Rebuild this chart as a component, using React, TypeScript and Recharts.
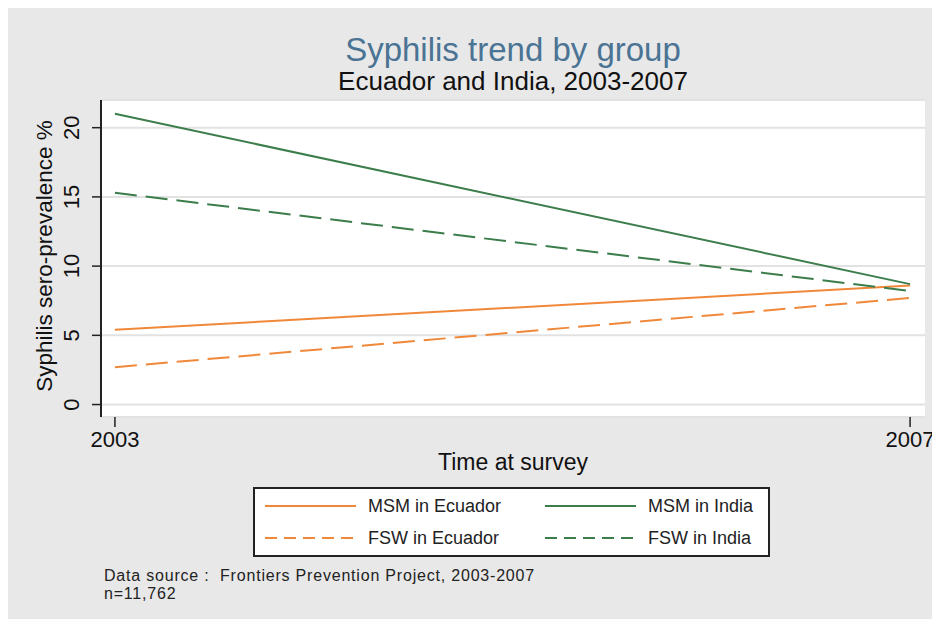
import React from "react";
import { LineChart, Line, XAxis, YAxis, CartesianGrid } from "recharts";

const years = [2003, 2007];
const msmEcuador = [5.4, 8.6];
const fswEcuador = [2.7, 7.7];
const msmIndia = [21.0, 8.7];
const fswIndia = [15.3, 8.2];
const yTicks = [0, 5, 10, 15, 20];
const xTicks = [2003, 2007];

const ORANGE = "#f0883a";
const GREEN = "#3b7d4b";

const seriesDefs = [
  { key: "msmEcuador", name: "MSM in Ecuador", color: ORANGE, dash: undefined as string | undefined, values: msmEcuador },
  { key: "fswEcuador", name: "FSW in Ecuador", color: ORANGE, dash: "22 9", values: fswEcuador },
  { key: "msmIndia", name: "MSM in India", color: GREEN, dash: undefined as string | undefined, values: msmIndia },
  { key: "fswIndia", name: "FSW in India", color: GREEN, dash: "22 9", values: fswIndia },
];

const data = years.map((year, i) => {
  const row: Record<string, number> = { year };
  seriesDefs.forEach((s) => {
    row[s.key] = s.values[i];
  });
  return row;
});

const FONT = "'Liberation Sans', Arial, sans-serif";

function VerticalTick(props: any) {
  const { x, y, payload } = props;
  const px = Number(x) - 19;
  const py = Number(y);
  return (
    <g transform={`translate(${px}, ${py})`}>
      <g transform="rotate(-90)">
        <text
          x={0}
          y={0}
          textAnchor="middle"
          dominantBaseline="central"
          style={{ fontSize: 22, fontFamily: FONT, fill: "#111" }}
        >
          {String(payload.value)}
        </text>
      </g>
    </g>
  );
}

const LegendItem = ({ s }: { s: (typeof seriesDefs)[number] }) => (
  <div style={{ display: "flex", alignItems: "center", height: 32 }}>
    <svg width={91} height={6} style={{ marginRight: 12 }}>
      <line
        x1={0}
        y1={3}
        x2={91}
        y2={3}
        stroke={s.color}
        strokeWidth={2.2}
        strokeDasharray={s.dash ? "12 7" : undefined}
      />
    </svg>
    <span style={{ fontSize: 18, color: "#222", whiteSpace: "nowrap" }}>{s.name}</span>
  </div>
);

export default function App() {
  return (
    <div
      style={{
        position: "relative",
        width: 929,
        height: 611,
        background: "#e8e8e8",
        fontFamily: FONT,
      }}
    >
      <div
        style={{
          position: "absolute",
          left: 93,
          width: 824,
          top: 23,
          textAlign: "center",
          fontSize: 33,
          color: "#4a7394",
          lineHeight: "38px",
        }}
      >
        Syphilis trend by group
      </div>
      <div
        style={{
          position: "absolute",
          left: 93,
          width: 824,
          top: 58,
          textAlign: "center",
          fontSize: 26,
          color: "#111",
          lineHeight: "30px",
        }}
      >
        Ecuador and India, 2003-2007
      </div>
      <div style={{ position: "absolute", left: 0, top: 0 }}>
        <LineChart
          width={929}
          height={611}
          data={data}
          margin={{ top: 92, right: 12, bottom: 162, left: 23 }}
        >
          <CartesianGrid
            horizontal={true}
            vertical={false}
            fill="#ffffff"
            stroke="#e2e2e2"
            strokeWidth={2}
          />
          <XAxis
            dataKey="year"
            type="number"
            domain={[2002.93, 2007.075]}
            ticks={xTicks}
            axisLine={false}
            tickLine={{ stroke: "#222", strokeWidth: 1.5 }}
            tickSize={10}
            tickMargin={4}
            height={40}
            tick={{ fontSize: 22, fill: "#111", fontFamily: FONT }}
            allowDataOverflow
          />
          <YAxis
            type="number"
            domain={[-0.9, 22.0]}
            ticks={yTicks}
            width={70}
            axisLine={{ stroke: "#222", strokeWidth: 2 }}
            tickLine={{ stroke: "#222", strokeWidth: 1.5 }}
            tickSize={9}
            tickMargin={2}
            tick={(p: any) => <VerticalTick {...p} />}
            allowDataOverflow
          />
          {seriesDefs.map((s) => (
            <Line
              key={s.key}
              dataKey={s.key}
              name={s.name}
              type="linear"
              stroke={s.color}
              strokeWidth={2}
              strokeDasharray={s.dash}
              dot={false}
              activeDot={false}
              isAnimationActive={false}
            />
          ))}
        </LineChart>
      </div>
      <div
        style={{
          position: "absolute",
          left: 37,
          top: 248,
          width: 0,
          height: 0,
        }}
      >
        <div
          style={{
            position: "absolute",
            left: 0,
            top: 0,
            transform: "translate(-50%, -50%) rotate(-90deg)",
            fontSize: 22.5,
            whiteSpace: "nowrap",
            color: "#111",
          }}
        >
          Syphilis sero-prevalence %
        </div>
      </div>
      <div
        style={{
          position: "absolute",
          left: 93,
          width: 824,
          top: 440,
          textAlign: "center",
          fontSize: 23,
          color: "#111",
          lineHeight: "28px",
        }}
      >
        Time at survey
      </div>
      <div
        style={{
          position: "absolute",
          left: 245,
          top: 479,
          width: 517,
          height: 70,
          background: "#fff",
          border: "2px solid #222",
          display: "grid",
          gridTemplateColumns: "280px 220px",
          alignContent: "center",
          paddingLeft: 10,
          boxSizing: "border-box",
        }}
      >
        <LegendItem s={seriesDefs[0]} />
        <LegendItem s={seriesDefs[2]} />
        <LegendItem s={seriesDefs[1]} />
        <LegendItem s={seriesDefs[3]} />
      </div>
      <div
        style={{
          position: "absolute",
          left: 96,
          top: 559,
          fontSize: 16,
          letterSpacing: 0.8,
          color: "#222",
          lineHeight: "18px",
        }}
      >
        <div>Data source :&nbsp; Frontiers Prevention Project, 2003-2007</div>
        <div>n=11,762</div>
      </div>
    </div>
  );
}
